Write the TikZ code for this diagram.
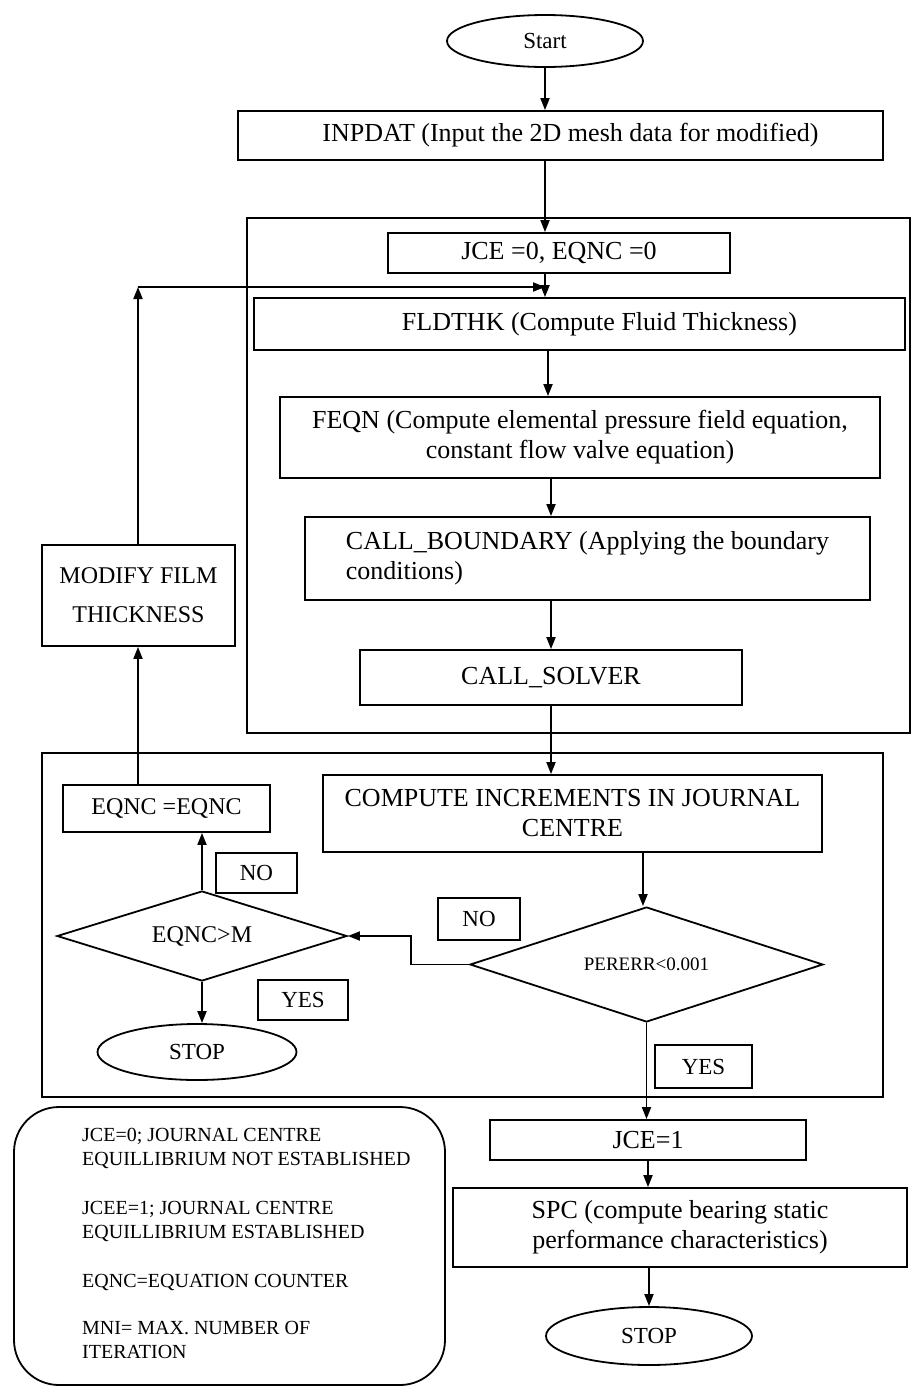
\documentclass[tikz,border=0pt]{standalone}
\usepackage{fontspec}
\setmainfont{Liberation Serif}
\usetikzlibrary{shapes.geometric,arrows.meta}
\tikzset{
	proc/.style={draw, line width=1.8pt, inner sep=0pt, align=center, font=\fontsize{26}{30}\selectfont},
	term/.style={draw, ellipse, line width=1.8pt, inner sep=0pt, font=\fontsize{23}{27}\selectfont},
	dec/.style={draw, diamond, line width=1.8pt, inner sep=0pt, aspect=3.1},
	tag/.style={draw, line width=1.8pt, inner sep=0pt, font=\fontsize{23}{27}\selectfont},
	flow/.style={line width=1.8pt, -{Triangle[length=12pt,width=9pt]}},
	frame/.style={line width=1.8pt}
}

\begin{document}
\begin{tikzpicture}[x=1pt,y=-1pt]
	\useasboundingbox (0,0) rectangle (912,1387);
	\draw[frame] (247,218) rectangle (910,733);
	\draw[frame] (42,753) rectangle (883,1097);
	\draw[frame, rounded corners=45pt] (14,1107) rectangle (445,1385);
	\node[term, minimum width=196pt, minimum height=52pt] (start) at (545,41) {Start};
	\node[proc, minimum width=645pt, minimum height=49pt] (inp) at (560.5,135.5) {\hspace*{20pt}INPDAT (Input the 2D mesh data for modified)};
	\node[proc, minimum width=342pt, minimum height=40pt] (jce0) at (559,253) {JCE =0, EQNC =0};
	\node[proc, minimum width=651pt, minimum height=52pt] (fld) at (579.5,324) {\hspace*{40pt}FLDTHK (Compute Fluid Thickness)};
	\node[proc, minimum width=600pt, minimum height=81pt] (feqn) at (580,437.5) {FEQN (Compute elemental pressure field equation,\\ constant flow valve equation)};
	\node[proc, minimum width=565pt, minimum height=83pt, align=left] (bnd) at (587.5,558.5) {CALL\_BOUNDARY (Applying the boundary\\conditions)};
	\node[proc, minimum width=382pt, minimum height=55pt] (solv) at (551,677.5) {CALL\_SOLVER};
	\node[proc, minimum width=193pt, minimum height=101pt, font=\fontsize{24}{39}\selectfont] (modf) at (138.5,595.5) {MODIFY FILM\\THICKNESS};
	\node[proc, minimum width=207pt, minimum height=47pt, font=\fontsize{24}{28}\selectfont] (eqc) at (166.5,808.5) {EQNC =EQNC};
	\node[proc, minimum width=499pt, minimum height=77pt] (comp) at (572.5,813.5) {COMPUTE INCREMENTS IN JOURNAL\\CENTRE};
	\node[tag, minimum width=81pt, minimum height=40pt] (no1) at (256.5,873) {NO};
	\node[dec, minimum width=290pt, minimum height=90pt, font=\fontsize{24}{28}\selectfont] (eqm) at (202,936) {EQNC>M};
	\node[tag, minimum width=90pt, minimum height=40pt] (yes1) at (303,1000) {YES};
	\node[term, minimum width=199pt, minimum height=56pt] (stop1) at (197,1052) {STOP};
	\node[dec, minimum width=353pt, minimum height=115pt, font=\fontsize{19}{23}\selectfont] (pe) at (646.5,964.5) {PERERR<0.001};
	\node[tag, minimum width=82pt, minimum height=42pt] (no2) at (479,919) {NO};
	\node[tag, minimum width=97pt, minimum height=43pt] (yes2) at (703.5,1066.5) {YES};
	\node[proc, minimum width=316pt, minimum height=40pt] (jce1) at (648,1140) {JCE=1};
	\node[proc, minimum width=454pt, minimum height=79pt] (spc) at (680,1227.5) {SPC (compute bearing static\\performance characteristics)};
	\node[term, minimum width=206pt, minimum height=58pt] (stop2) at (649,1336) {STOP};
	\node[anchor=north west, inner sep=0pt, align=left, font=\fontsize{20}{24}\selectfont] (legend) at (82,1128) {JCE=0; JOURNAL CENTRE\\EQUILLIBRIUM NOT ESTABLISHED\\[25pt]JCEE=1; JOURNAL CENTRE\\EQUILLIBRIUM ESTABLISHED\\[25pt]EQNC=EQUATION COUNTER\\[23pt]MNI= MAX. NUMBER OF\\ITERATION};
	\coordinate (bend) at (138,287);
	\coordinate (mrg) at (545,287);
	\draw[flow] (start.south) -- (start.south |- inp.north);
	\draw[flow] (inp.south -| start) -- (jce0.north -| start);
	\draw[flow] (jce0.south -| start) -- (fld.north -| start);
	\draw[flow] (fld.south -| 548,0) -- (feqn.north -| 548,0);
	\draw[flow] (feqn.south -| 551,0) -- (bnd.north -| 551,0);
	\draw[flow] (bnd.south -| solv) -- (solv.north);
	\draw[flow] (solv.south) -- (solv.south |- comp.north);
	\draw[flow] (comp.south -| 643,0) -- (pe.north -| 643,0);
	\draw[flow] (pe.west) -- ++(-58,0) |- (eqm.east);
	\draw[flow] (pe.south) -- (pe.south |- jce1.north);
	\draw[flow] (jce1.south) -- (jce1.south |- spc.north);
	\draw[flow] (spc.south -| stop2) -- (stop2.north);
	\draw[flow] (eqm.north) -- (eqm.north |- eqc.south);
	\draw[flow] (eqm.south) -- (eqm.south |- stop1.north);
	\draw[flow] (eqc.north -| bend) -- (modf.south -| bend);
	\draw[flow] (modf.north -| bend) -- (bend);
	\draw[flow] (bend) -- (mrg);
\end{tikzpicture}
\end{document}
